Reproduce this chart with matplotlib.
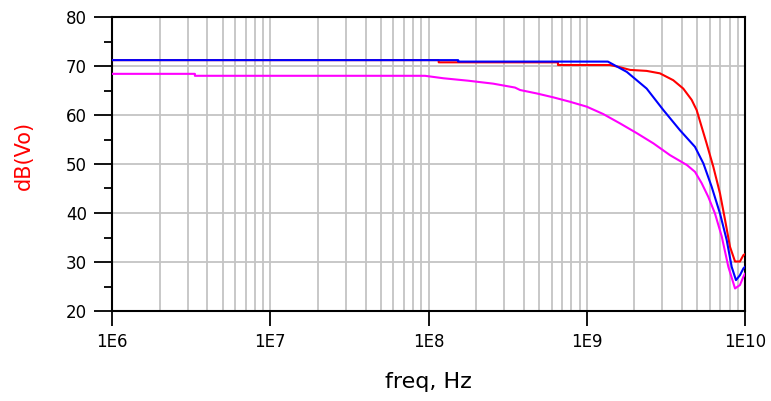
import matplotlib
matplotlib.use("Agg")
import matplotlib.pyplot as plt
from matplotlib.ticker import FixedLocator, NullFormatter, LogLocator

plt.rcParams['font.family'] = ['DejaVu Sans']

# ---- data ----
red_f = [1e6, 1.16e8, 1.16e8, 6.58e8, 6.58e8, 1.40e9, 1.60e9, 1.88e9, 2.39e9, 2.90e9,
         3.52e9, 4.07e9, 4.60e9, 4.95e9, 5.32e9, 5.72e9, 6.31e9, 6.95e9, 7.48e9,
         8.04e9, 8.65e9, 9.29e9, 9.77e9, 1e10]
red_v = [71.2, 71.2, 70.75, 70.75, 70.2, 70.2, 69.8, 69.2, 69.0, 68.5,
         67.1, 65.4, 63.1, 61.0, 57.6, 54.2, 49.4, 44.0, 38.6,
         33.1, 30.1, 30.1, 31.4, 31.6]

blue_f = [1e6, 1.54e8, 1.54e8, 1.36e9, 1.79e9, 2.39e9, 3.05e9, 3.88e9, 4.83e9,
          5.46e9, 6.15e9, 6.95e9, 7.66e9, 8.24e9, 8.77e9, 9.29e9, 9.77e9, 1e10]
blue_v = [71.2, 71.2, 70.9, 70.9, 68.8, 65.4, 61.0, 56.9, 53.5,
          50.1, 45.4, 39.9, 34.5, 29.0, 26.3, 27.3, 28.7, 29.0]

mag_f = [1e6, 3.34e6, 3.34e6, 9.5e7, 1.24e8, 1.78e8, 2.56e8, 3.52e8, 3.79e8,
         4.83e8, 6.15e8, 7.84e8, 1.0e9, 1.27e9, 1.62e9, 2.07e9, 2.64e9, 3.36e9,
         4.29e9, 4.83e9, 5.32e9, 5.86e9, 6.46e9, 7.13e9, 7.85e9, 8.65e9, 9.29e9,
         9.77e9, 1e10]
mag_v = [68.4, 68.4, 68.0, 68.0, 67.5, 67.0, 66.4, 65.6, 65.1,
         64.4, 63.6, 62.7, 61.7, 60.2, 58.3, 56.3, 54.2, 51.8,
         49.8, 48.4, 46.1, 43.3, 39.9, 35.2, 29.0, 24.6, 25.3,
         27.0, 27.6]

x_ticks = [1e6, 1e7, 1e8, 1e9, 1e10]
x_tick_labels = ["1E6", "1E7", "1E8", "1E9", "1E10"]
y_ticks = [20, 30, 40, 50, 60, 70, 80]

# ---- figure ----
fig = plt.figure(figsize=(7.71, 4.01), dpi=100)
ax = fig.add_axes([112/771, 1-311/401, (745-112)/771, (311-17)/401])

ax.plot(red_f, red_v, color='#ff0000', lw=1.5, zorder=3)
ax.plot(mag_f, mag_v, color='#ff00ff', lw=1.5, zorder=3)
ax.plot(blue_f, blue_v, color='#0000ff', lw=1.5, zorder=4)

ax.set_xscale('log')
ax.set_xlim(1e6, 1e10)
ax.set_ylim(20, 80)

ax.set_xticks(x_ticks)
ax.set_xticklabels(x_tick_labels)
ax.xaxis.set_minor_locator(LogLocator(base=10, subs=range(2, 10), numticks=50))
ax.xaxis.set_minor_formatter(NullFormatter())
ax.set_yticks(y_ticks)
ax.yaxis.set_minor_locator(FixedLocator([25, 35, 45, 55, 65, 75]))

ax.grid(True, which='major', color='#c4c4c4', lw=1.3, zorder=1)
ax.grid(True, which='minor', axis='x', color='#c4c4c4', lw=1.3, zorder=1)
ax.set_axisbelow(True)

ax.tick_params(axis='x', which='major', direction='out', length=11, width=1.3,
               pad=5, labelsize=12, colors='black')
ax.tick_params(axis='x', which='minor', length=0)
ax.tick_params(axis='y', which='major', direction='out', length=13, width=1.3,
               pad=5, labelsize=12)
ax.tick_params(axis='y', which='minor', direction='out', length=6, width=1.3)

for s in ax.spines.values():
    s.set_color('black')
    s.set_linewidth(1.5)

fig.text(24/771, 1-155/401, 'dB(Vo)', color='#ff0000', fontsize=15,
         rotation=90, ha='center', va='center')
fig.text(428/771, 1-382/401, 'freq, Hz', color='black', fontsize=16,
         ha='center', va='center')

fig.savefig('out.png', dpi=100)
